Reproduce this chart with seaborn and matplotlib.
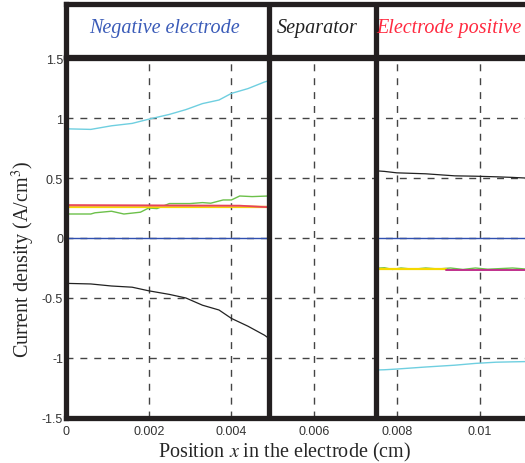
import numpy as np
import pandas as pd
import matplotlib
matplotlib.use("Agg")
import matplotlib.pyplot as plt
import seaborn as sns

# values (x in cm, current density in A/cm^3)
x_neg = [0.0, 0.0006, 0.0011, 0.0016, 0.002, 0.0025, 0.0029, 0.0033, 0.0037, 0.004, 0.0044, 0.0048, 0.0049]
cyan_neg = [0.91, 0.905, 0.935, 0.955, 0.99, 1.03, 1.07, 1.12, 1.15, 1.205, 1.245, 1.30, 1.31]
black_neg = [-0.378, -0.383, -0.40, -0.41, -0.44, -0.47, -0.50, -0.56, -0.60, -0.67, -0.735, -0.81, -0.835]

x_green = [0.0, 0.0006, 0.0007, 0.0011, 0.0014, 0.0018, 0.002, 0.0022, 0.0025, 0.003, 0.0033, 0.0035,
           0.0038, 0.004, 0.0042, 0.0045, 0.0049]
green_neg = [0.20, 0.20, 0.21, 0.223, 0.20, 0.215, 0.25, 0.245, 0.287, 0.287, 0.295, 0.29, 0.317, 0.317,
             0.35, 0.345, 0.35]

x_flat_neg = [0.0, 0.0042, 0.0049]
red_neg = [0.275, 0.27, 0.256]
yellow_neg = [0.262, 0.262, 0.262]
orange_neg = [0.268, 0.265, 0.26]

x_pos = [0.0075, 0.0077, 0.008, 0.0087, 0.0094, 0.0099, 0.0104, 0.0108, 0.0111]
black_pos = [0.56, 0.555, 0.543, 0.535, 0.518, 0.515, 0.51, 0.505, 0.50]
cyan_pos = [-1.10, -1.098, -1.092, -1.075, -1.06, -1.045, -1.035, -1.032, -1.03]

x_wave = [0.0075, 0.0077, 0.0079, 0.0081, 0.0084, 0.0087, 0.009, 0.0093, 0.0096, 0.0099, 0.0102,
          0.0105, 0.0108, 0.0111]
green_pos = [-0.252, -0.248, -0.262, -0.25, -0.26, -0.25, -0.258, -0.25, -0.262, -0.25, -0.26, -0.255,
             -0.25, -0.258]
x_yellow_pos = [0.0075, 0.0092]
yellow_pos = [-0.262, -0.262]
x_mag_pos = [0.0092, 0.0111]
mag_pos = [-0.268, -0.268]

blue_zero = [0.0, 0.0]

x_ticks = [0, 0.002, 0.004, 0.006, 0.008, 0.01]
x_ticklabels = ["0", "0.002", "0.004", "0.006", "0.008", "0.01"]
y_ticks = [-1.5, -1, -0.5, 0, 0.5, 1, 1.5]
y_ticklabels = ["-1.5", "-1", "-0.5", "0", "0.5", "1", "1.5"]

sep_left, sep_right = 0.0049, 0.0075
zones = ["Negative electrode", "Separator", "Electrode positive"]

sns.set_style("white")
plt.rcParams["font.family"] = ["Liberation Sans", "DejaVu Sans"]

W, H = 525, 464
fig = plt.figure(figsize=(W / 100, H / 100), dpi=100)
ax = fig.add_axes([66 / W, (H - 419) / H, (W - 66) / W, (419 - 59) / H])
hx = fig.add_axes([66 / W, (H - 58) / H, (W - 66) / W, (58 - 5) / H])

dark = "#231f20"
ax.grid(True, color="#444444", linestyle=(0, (5, 5)), linewidth=1.0)

lines = [
    (x_neg, cyan_neg, "#6fcfe0", 1.0),
    (x_green, green_neg, "#6cc04a", 1.0),
    (x_flat_neg, yellow_neg, "#f5d800", 1.6),
    (x_flat_neg, orange_neg, "#f0a050", 1.3),
    (x_flat_neg, red_neg, "#e8435a", 1.2),
    (x_neg, black_neg, "#222222", 0.9),
    (x_pos, black_pos, "#222222", 0.9),
    (x_pos, cyan_pos, "#6fcfe0", 1.0),
    (x_wave, green_pos, "#6cc04a", 1.0),
    (x_yellow_pos, yellow_pos, "#f5d800", 1.6),
    (x_mag_pos, mag_pos, "#c0308c", 1.4),
]
for xs, ys, c, lw in lines:
    sns.lineplot(x=xs, y=ys, color=c, linewidth=lw, ax=ax)

# zero current lines, blue only inside the electrodes
sns.lineplot(x=[0.0, sep_left], y=blue_zero, color="#3050b0", linewidth=1.0, ax=ax)
sns.lineplot(x=[sep_right, 0.0111], y=blue_zero, color="#3050b0", linewidth=1.0, ax=ax)

ax.set_xlim(0, 0.0111)
ax.set_ylim(-1.5, 1.5)
ax.set_xticks(x_ticks)
ax.set_xticklabels(x_ticklabels)
ax.set_yticks(y_ticks)
ax.set_yticklabels(y_ticklabels)
ax.tick_params(length=0, labelsize=9, colors="#333333")
ax.tick_params(axis="x", pad=5)
ax.tick_params(axis="y", pad=2)
for s in ["left", "bottom", "top"]:
    ax.spines[s].set_linewidth(3.8)
    ax.spines[s].set_color(dark)
ax.spines["right"].set_visible(False)
for xv in [sep_left, sep_right]:
    ax.axvline(xv, color=dark, linewidth=3.8)

ax.set_xlabel("Position $\\it{x}$ in the electrode (cm)", family="Liberation Serif", fontsize=14.5)
ax.set_ylabel("Current density (A/cm$^3$)", family="Liberation Serif", fontsize=14.5)
ax.xaxis.label.set_math_fontfamily("stix")
ax.yaxis.label.set_math_fontfamily("stix")
ax.xaxis.set_label_coords(0.477, -0.062)
ax.yaxis.set_label_coords(-0.064, 0.444)

# header band with zone names
hx.set_xlim(0, 0.0111)
hx.set_ylim(0, 1)
hx.set_xticks([])
hx.set_yticks([])
for s in ["left", "bottom", "top"]:
    hx.spines[s].set_linewidth(3.8)
    hx.spines[s].set_color(dark)
hx.spines["right"].set_visible(False)
for xv in [sep_left, sep_right]:
    hx.axvline(xv, color=dark, linewidth=3.8)
hdr = dict(family="Liberation Serif", style="italic", fontsize=14.5, va="center", ha="center")
hx.text(0.00238, 0.56, zones[0], color="#3a5bb8", **hdr)
hx.text(0.00607, 0.56, zones[1], color="#222222", **hdr)
hx.text(0.00925, 0.56, zones[2], color="#ff2a40", **hdr)

fig.savefig("out.png", dpi=100)
